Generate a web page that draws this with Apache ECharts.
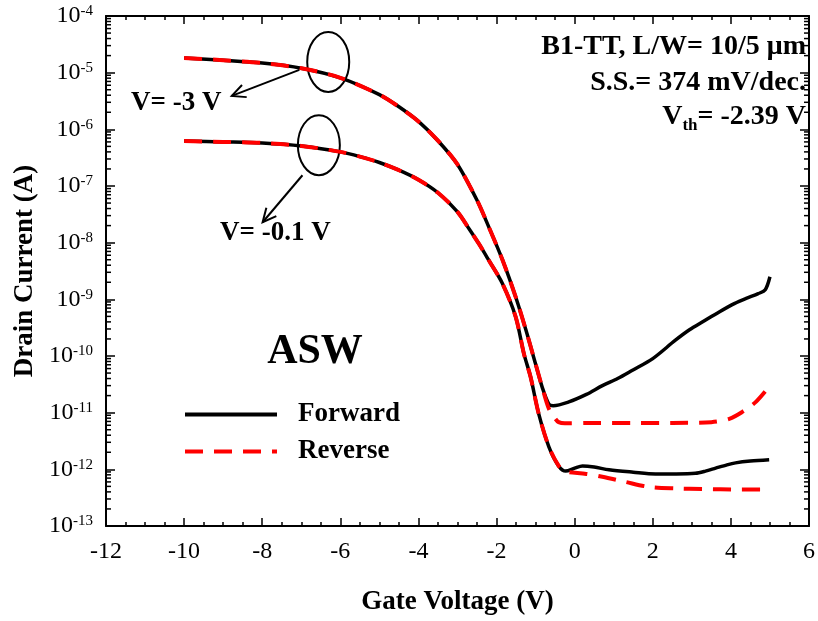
<!DOCTYPE html>
<html>
<head>
<meta charset="utf-8">
<script src="https://cdn.jsdelivr.net/npm/echarts@6/dist/echarts.min.js"></script>
<style>
  html, body { margin: 0; padding: 0; background: #fff; }
  #chart { width: 818px; height: 621px; }
</style>
</head>
<body>
<div id="chart"></div>
<script>
// Transfer curves: gate voltage (V) and drain current (A)
// V = -3 V, forward sweep
const vgFwdHigh = [-10, -9, -8, -7, -6, -5, -4.5, -4, -3.5, -3, -2.5, -2.2, -1.85, -1.51, -1.25, -1.0, -0.83, -0.66, -0.55, -0.15, 0.3, 0.71, 1.1, 1.48, 1.99, 2.58, 2.94, 3.3, 3.7, 4.1, 4.39, 4.7, 4.88, 5.0];
const idFwdHigh = [1.82e-5, 1.66e-5, 1.48e-5, 1.2e-5, 8.1e-6, 4.1e-6, 2.5e-6, 1.38e-6, 6.3e-7, 2.4e-7, 5.6e-8, 1.9e-8, 5.0e-9, 1.1e-9, 2.9e-10, 7.2e-11, 2.8e-11, 1.41e-11, 1.33e-11, 1.55e-11, 2.1e-11, 3.0e-11, 4.0e-11, 5.6e-11, 8.9e-11, 1.9e-10, 2.9e-10, 4.1e-10, 6.0e-10, 8.5e-10, 1.04e-9, 1.26e-9, 1.48e-9, 2.5e-9];
// V = -3 V, reverse sweep
const vgRevHigh = [-10, -9, -8, -7, -6, -5, -4.5, -4, -3.5, -3, -2.5, -2.2, -1.85, -1.51, -1.25, -1.0, -0.83, -0.66, -0.5, -0.41, -0.25, 0.5, 1.5, 2.5, 3.5, 3.96, 4.29, 4.64, 5.0];
const idRevHigh = [1.82e-5, 1.66e-5, 1.48e-5, 1.2e-5, 8.1e-6, 4.1e-6, 2.5e-6, 1.38e-6, 6.3e-7, 2.4e-7, 5.6e-8, 1.9e-8, 5.0e-9, 1.1e-9, 2.9e-10, 7.2e-11, 2.8e-11, 1.17e-11, 7.9e-12, 6.8e-12, 6.5e-12, 6.6e-12, 6.6e-12, 6.6e-12, 6.8e-12, 7.8e-12, 1.03e-11, 1.55e-11, 3.0e-11];
// V = -0.1 V, forward sweep
const vgFwdLow = [-10, -9, -8, -7, -6, -5.5, -5, -4.5, -4, -3.5, -3, -2.71, -2.45, -2.2, -1.85, -1.51, -1.3, -1.13, -0.92, -0.66, -0.41, -0.23, 0.0, 0.2, 0.5, 0.88, 1.5, 2.07, 2.6, 3.09, 3.35, 3.61, 3.9, 4.12, 4.5, 4.98];
const idFwdLow = [6.2e-7, 6.0e-7, 5.75e-7, 5.1e-7, 4.0e-7, 3.3e-7, 2.6e-7, 1.9e-7, 1.29e-7, 7.6e-8, 3.5e-8, 1.78e-8, 9.5e-9, 4.9e-9, 1.9e-9, 4.9e-10, 1.1e-10, 4.3e-11, 9.5e-12, 2.5e-12, 1.15e-12, 9.3e-13, 1.05e-12, 1.15e-12, 1.1e-12, 9.8e-13, 8.9e-13, 8.3e-13, 8.3e-13, 8.5e-13, 9.3e-13, 1.05e-12, 1.2e-12, 1.3e-12, 1.4e-12, 1.48e-12];
// V = -0.1 V, reverse sweep
const vgRevLow = [-10, -9, -8, -7, -6, -5.5, -5, -4.5, -4, -3.5, -3, -2.71, -2.45, -2.2, -1.85, -1.51, -1.3, -1.13, -0.92, -0.66, -0.41, -0.25, -0.15, 0.3, 0.71, 1.3, 1.9, 2.6, 3.27, 4.2, 5.0];
const idRevLow = [6.2e-7, 6.0e-7, 5.75e-7, 5.1e-7, 4.0e-7, 3.3e-7, 2.6e-7, 1.9e-7, 1.29e-7, 7.6e-8, 3.5e-8, 1.78e-8, 9.5e-9, 4.9e-9, 1.9e-9, 4.9e-10, 1.1e-10, 4.3e-11, 9.5e-12, 2.5e-12, 1.15e-12, 9.3e-13, 8.9e-13, 8.3e-13, 7.4e-13, 6.0e-13, 4.9e-13, 4.6e-13, 4.5e-13, 4.4e-13, 4.4e-13];

// Axis ranges
const xRange = [-12, 6];
const xStep = 2;
const yDecades = [-13, -4];

const FONT = '"Liberation Serif", "Times New Roman", serif';
const pairs = (xs, ys) => xs.map((x, i) => [x, ys[i]]);

const chart = echarts.init(document.getElementById('chart'), null, { renderer: 'canvas' });

const axisLine = { show: true, onZero: false, lineStyle: { color: '#000', width: 2 } };
const xTickCommon = {
  type: 'value', min: xRange[0], max: xRange[1], interval: xStep,
  axisLine: axisLine,
  axisTick: { show: true, inside: true, length: 8, lineStyle: { color: '#000', width: 1.5 } },
  minorTick: { show: true, splitNumber: 4, length: 4, lineStyle: { color: '#000', width: 1.5 } },
  splitLine: { show: false }, minorSplitLine: { show: false }
};
const yCommon = {
  type: 'log', logBase: 10,
  min: Math.pow(10, yDecades[0]), max: Math.pow(10, yDecades[1]),
  splitNumber: yDecades[1] - yDecades[0],
  axisLine: axisLine,
  axisTick: { show: true, inside: true, length: 9, lineStyle: { color: '#000', width: 1.5 } },
  minorTick: { show: false },
  splitLine: { show: false }, minorSplitLine: { show: false }
};

const blackLine = { color: '#000', width: 3.5, type: 'solid' };
const redLine = { color: '#ff0000', width: 4, type: [18, 11] };

chart.setOption({
  animation: false,
  backgroundColor: '#fff',
  grid: { left: 106, right: 7, top: 16, bottom: 95, containLabel: false },
  xAxis: [
    Object.assign({}, xTickCommon, {
      position: 'bottom',
      axisLabel: { fontSize: 24, color: '#000', fontFamily: FONT, margin: 14 },
      name: 'Gate Voltage (V)', nameLocation: 'middle', nameGap: 63,
      nameTextStyle: { fontSize: 27, fontWeight: 'bold', color: '#000', fontFamily: FONT }
    }),
    Object.assign({}, xTickCommon, { position: 'top', axisLabel: { show: false } })
  ],
  yAxis: [
    Object.assign({}, yCommon, {
      position: 'left',
      axisLabel: {
        margin: 13,
        formatter: v => '{b|10}{s|' + Math.round(Math.log10(v)) + '}',
        rich: {
          b: { fontSize: 24, fontFamily: FONT, color: '#000' },
          s: { fontSize: 15, fontFamily: FONT, color: '#000', verticalAlign: 'top' }
        }
      },
      name: 'Drain Current (A)', nameLocation: 'middle', nameGap: 59,
      nameTextStyle: { fontSize: 27, fontWeight: 'bold', color: '#000', fontFamily: FONT }
    }),
    Object.assign({}, yCommon, { position: 'right', axisLabel: { show: false } })
  ],
  legend: {
    data: ['Forward', 'Reverse'],
    orient: 'vertical', left: 178, top: 396,
    itemWidth: 92, itemHeight: 14, itemGap: 10,
    itemStyle: { color: 'transparent', borderColor: 'transparent', borderWidth: 0, opacity: 0 },
    lineStyle: { width: 4 },
    textStyle: { fontSize: 27, fontWeight: 'bold', color: '#000', fontFamily: FONT, padding: [0, 0, 0, 16] }
  },
  series: [
    { name: 'Forward', type: 'line', data: pairs(vgFwdHigh, idFwdHigh), symbol: 'none', smooth: 0.3, lineStyle: blackLine, itemStyle: { color: '#000' } },
    { name: 'Forward', type: 'line', data: pairs(vgFwdLow, idFwdLow), symbol: 'none', smooth: 0.3, lineStyle: blackLine, itemStyle: { color: '#000' } },
    { name: 'Reverse', type: 'line', data: pairs(vgRevHigh, idRevHigh), symbol: 'none', smooth: 0.3, lineStyle: redLine, itemStyle: { color: '#ff0000' } },
    { name: 'Reverse', type: 'line', data: pairs(vgRevLow, idRevLow), symbol: 'none', smooth: 0.3, lineStyle: redLine, itemStyle: { color: '#ff0000' } }
  ]
});

// Annotations: minor log ticks, curve callouts, device parameters
function buildGraphics() {
  const els = [];
  const toPx = (x, y) => chart.convertToPixel({ seriesIndex: 0 }, [x, y]);
  const xl = chart.convertToPixel({ xAxisIndex: 0 }, xRange[0]);
  const xr = chart.convertToPixel({ xAxisIndex: 0 }, xRange[1]);
  for (let n = yDecades[0]; n < yDecades[1]; n++) {
    for (let k = 2; k <= 9; k++) {
      const py = chart.convertToPixel({ yAxisIndex: 0 }, k * Math.pow(10, n));
      els.push({ type: 'line', shape: { x1: xl, y1: py, x2: xl + 5, y2: py }, style: { stroke: '#000', lineWidth: 1.5 }, silent: true });
      els.push({ type: 'line', shape: { x1: xr - 5, y1: py, x2: xr, y2: py }, style: { stroke: '#000', lineWidth: 1.5 }, silent: true });
    }
  }

  const ring = (x, y) => {
    const c = toPx(x, y);
    els.push({ type: 'ellipse', shape: { cx: c[0], cy: c[1], rx: 21, ry: 30 }, style: { fill: 'none', stroke: '#000', lineWidth: 2 } });
  };
  const arrow = (from, to) => {
    const a = toPx(from[0], from[1]), b = toPx(to[0], to[1]);
    const ang = Math.atan2(b[1] - a[1], b[0] - a[0]);
    const L = 15, w = 0.45;
    els.push({ type: 'line', shape: { x1: a[0], y1: a[1], x2: b[0], y2: b[1] }, style: { stroke: '#000', lineWidth: 2 } });
    els.push({ type: 'polyline', shape: { points: [
      [b[0] - L * Math.cos(ang - w), b[1] - L * Math.sin(ang - w)], b,
      [b[0] - L * Math.cos(ang + w), b[1] - L * Math.sin(ang + w)]
    ] }, style: { stroke: '#000', lineWidth: 2, fill: 'none' } });
  };
  ring(-6.31, Math.pow(10, -4.81));
  ring(-6.55, Math.pow(10, -6.28));
  arrow([-7.05, Math.pow(10, -4.95)], [-8.78, Math.pow(10, -5.41)]);
  arrow([-6.97, Math.pow(10, -6.81)], [-7.99, Math.pow(10, -7.64)]);

  const bold = s => 'bold ' + s + 'px ' + FONT;
  const txt = (text, x, y, size, align) => els.push({
    type: 'text', x: x, y: y,
    style: { text: text, font: bold(size), fill: '#000', align: align || 'left', verticalAlign: 'middle', textAlign: align || 'left', textVerticalAlign: 'middle' }
  });
  txt('V= -3 V', 131, 103, 27);
  txt('V= -0.1 V', 220, 233, 27);
  txt('ASW', 315, 352, 42, 'center');
  txt('B1-TT, L/W= 10/5 \u03bcm', 806, 47, 28, 'right');
  txt('S.S.= 374 mV/dec.', 806, 83, 28, 'right');
  els.push({
    type: 'text', x: 806, y: 117,
    style: {
      text: '{v|V}{sub|th}{v|= -2.39 V}',
      align: 'right', verticalAlign: 'middle', textAlign: 'right', textVerticalAlign: 'middle',
      rich: {
        v: { fontSize: 28, fontWeight: 'bold', fontFamily: FONT, fill: '#000', color: '#000' },
        sub: { fontSize: 17, fontWeight: 'bold', fontFamily: FONT, fill: '#000', color: '#000', verticalAlign: 'bottom', padding: [18, 0, 0, 0] }
      }
    }
  });
  chart.setOption({ graphic: { elements: els } });
}
buildGraphics();
</script>
</body>
</html>
